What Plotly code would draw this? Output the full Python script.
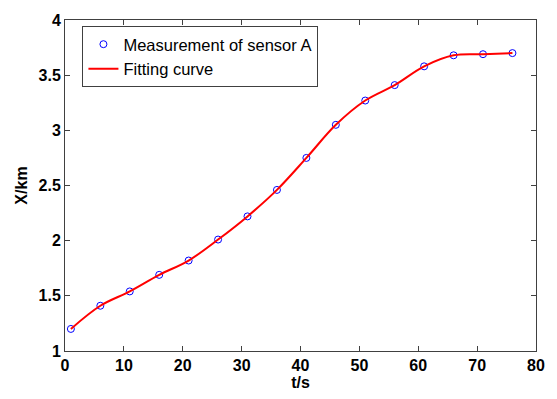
import plotly.graph_objects as go

t = [1, 6, 11, 16, 21, 26, 31, 36, 41, 46, 51, 56, 61, 66, 71, 76]
x_km = [1.20, 1.41, 1.54, 1.69, 1.82, 2.01, 2.22, 2.46, 2.75, 3.05, 3.27, 3.41, 3.58, 3.68, 3.69, 3.70]

x_ticks = [0, 10, 20, 30, 40, 50, 60, 70, 80]
y_ticks = [1, 1.5, 2, 2.5, 3, 3.5, 4]
y_tick_text = ["1", "1.5", "2", "2.5", "3", "3.5", "4"]

font_family = "Liberation Sans, Arial, sans-serif"

fig = go.Figure()
fig.add_trace(go.Scatter(
    x=t, y=x_km, mode="markers", name="Measurement of sensor A",
    marker=dict(symbol="circle-open", size=7, color="#0000FF", line=dict(width=1, color="#0000FF")),
))
fig.add_trace(go.Scatter(
    x=t, y=x_km, mode="lines", name="Fitting curve",
    line=dict(color="#FF0000", width=2, shape="spline", smoothing=1.0),
))

axis_common = dict(
    showline=True, linecolor="#404040", linewidth=1, mirror="ticks",
    ticks="inside", ticklen=5, tickcolor="#404040", tickwidth=1,
    showgrid=False, zeroline=False,
    tickfont=dict(family=font_family, size=16, color="black", weight="bold"),
)

fig.update_layout(
    width=557, height=399,
    margin=dict(l=65, r=15, t=17, b=41),
    paper_bgcolor="white", plot_bgcolor="white",
    showlegend=True,
    legend=dict(
        x=0.037, y=0.982, xanchor="left", yanchor="top",
        bordercolor="#404040", borderwidth=1, bgcolor="white",
        font=dict(family=font_family, size=16.5, color="black"),
        tracegroupgap=0, itemwidth=30,
    ),
    xaxis=dict(range=[0, 80], tickvals=x_ticks, **axis_common,
               title=dict(text="t/s", standoff=2,
                          font=dict(family=font_family, size=16, color="black", weight="bold"))),
    yaxis=dict(range=[1, 4], tickvals=y_ticks, ticktext=y_tick_text, **axis_common,
               title=dict(text="X/km", standoff=6,
                          font=dict(family=font_family, size=16, color="black", weight="bold"))),
)

fig.write_html("out.html")
